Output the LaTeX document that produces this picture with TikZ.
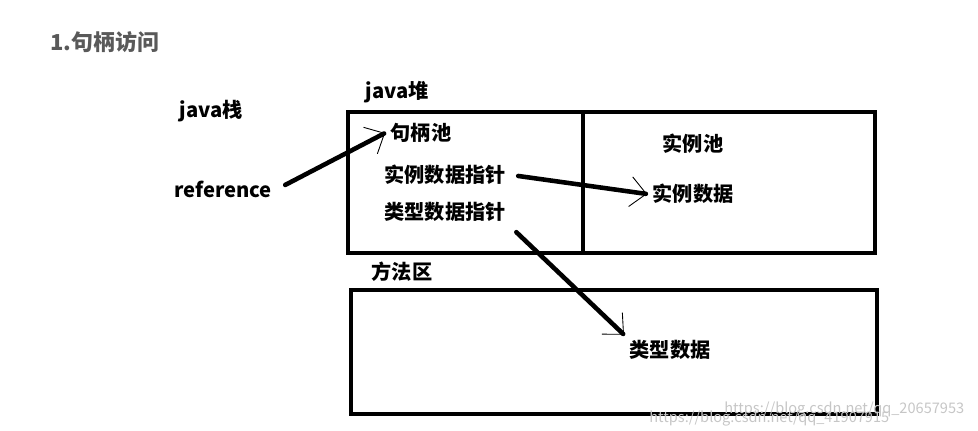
\documentclass[tikz,border=0pt]{standalone}
\usepackage{fontspec}
\setmainfont{Noto Sans CJK SC}
\usetikzlibrary{arrows.meta}

\begin{document}
\begin{tikzpicture}[x=0.02cm,y=-0.02cm,>=stealth]
 \tikzstyle{lbl} = [font=\fontsize{11.5pt}{13pt}\selectfont\bfseries,inner sep=3pt]
 \tikzstyle{area} = [line width=2.8pt]
 \tikzstyle{ptr} = [line width=2.6pt,line cap=round,
   -{Straight Barb[length=9pt,width=17pt,line width=0.5pt]}]
 \tikzstyle{wmark} = [font=\fontsize{8.3pt}{9pt}\selectfont,text=gray!45,inner sep=0pt]
 \useasboundingbox (0,0) rectangle (978,431);

% Title
 \node[lbl,text=black!65,font=\fontsize{12.5pt}{14pt}\selectfont\bfseries,anchor=west] (title) at (45,42) {1.句柄访问};

% Stack
 \node[lbl] (stack) at (211,111) {java栈};
 \node[lbl] (ref) at (223,189) {reference};

% Heap
 \node[lbl] (heap) at (397,92) {java堆};
 \draw[area] (348,112) rectangle (875,253);
 \draw[area] (583,112) -- (583,253);
 \node[lbl] (hpool) at (421,133) {句柄池};
 \node[lbl] (iptr) at (445,175) {实例数据指针};
 \node[lbl] (tptr) at (445,212) {类型数据指针};
 \node[lbl] (ipool) at (693,144) {实例池};
 \node[lbl] (idata) at (693,194) {实例数据};

% Method area
 \node[lbl] (marea) at (402,272) {方法区};
 \draw[area] (351,290) rectangle (877,414);
 \node[lbl] (tdata) at (670,350) {类型数据};

% Pointers
 \draw[ptr,shorten <=5pt] (ref.east) -- (hpool.west);
 \draw[ptr,shorten <=4pt] (iptr.east) -- (idata.west);
 \draw[ptr,shorten <=4pt] (tptr.south east) -- (tdata.north west);

% Watermark
 \node[wmark,anchor=west] (wm1) at (724,410) {https://blog.csdn.net/qq\_20657953};
 \node[wmark,anchor=west] (wm2) at (649,419) {https://blog.csdn.net/qq\_41907915};
\end{tikzpicture}
\end{document}
